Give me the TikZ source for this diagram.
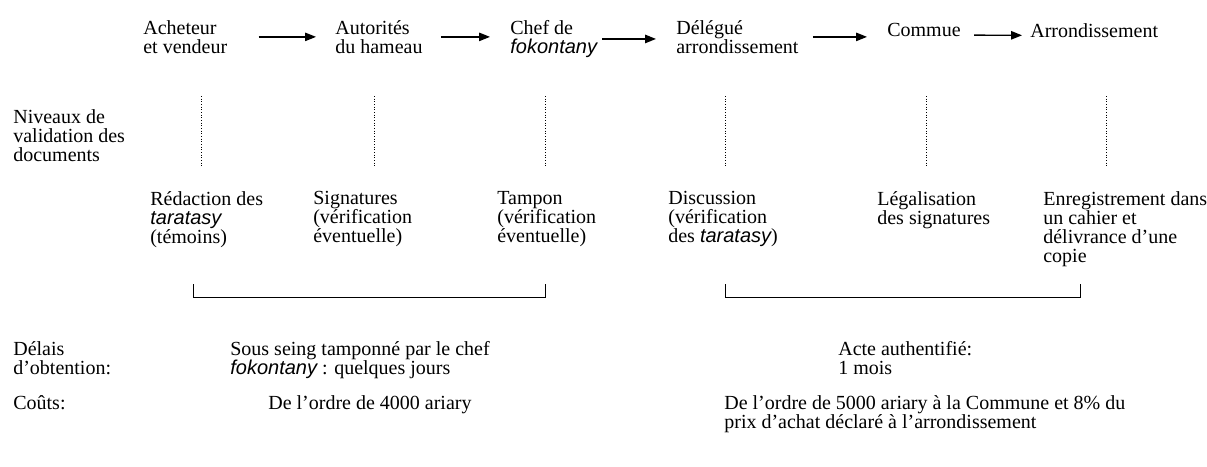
\documentclass[tikz,border=0pt]{standalone}
\usepackage{fontspec}
\setmainfont{Liberation Serif}
\newfontfamily\arialfont{Liberation Sans}
\usetikzlibrary{arrows.meta}
\newcommand{\mg}[1]{{\arialfont\itshape #1}}

\begin{document}
\begin{tikzpicture}[
  x=0.6pt, y=-0.6pt,
  txt/.style={anchor=north west, inner sep=0pt, align=left, font=\fontsize{12}{11.4}\selectfont},
  flow/.style={-{Triangle[length=6.5pt, width=5pt]}, line width=0.8pt},
  level/.style={densely dotted, line width=0.6pt},
  bracket/.style={line width=0.6pt},
]
  \useasboundingbox (0,0) rectangle (1207,466);
  % acteurs
  \node[txt] (acheteur) at (143,20) {Acheteur\\et vendeur};
  \node[txt] (autorites) at (335,20) {Autorités\\du hameau};
  \node[txt] (chef) at (510,20) {Chef de\\\mg{fokontany}};
  \node[txt] (delegue) at (676,20) {Délégué\\arrondissement};
  \node[txt] (commue) at (887,23) {Commue};
  \node[txt] (arrond) at (1030,23) {Arrondissement};
  \draw[flow, shorten <=18.6pt, shorten >=11.4pt] (acheteur.east) -- (acheteur.east -| autorites.west);
  \draw[flow, shorten <=10.8pt, shorten >=12pt] (autorites.east) -- (autorites.east -| chef.west);
  \draw[flow, shorten <=3pt, shorten >=12pt] (chef.east) -- (chef.east -| delegue.west);
  \draw[flow, shorten <=8.4pt, shorten >=12pt] (delegue.east) -- (delegue.east -| commue.west);
  \draw[flow, shorten <=7.8pt, shorten >=4.8pt] ([yshift=-3pt]commue.east) -- ([yshift=-3pt]arrond.west);
  % niveaux de validation
  \node[txt] (niveaux) at (13,109) {Niveaux de\\validation des\\documents};
  \foreach \x in {201,374,545,725,926,1106}
    \draw[level] (\x,96) -- (\x,166);
  \node[txt] (redaction) at (150,191) {Rédaction des\\\mg{taratasy}\\(témoins)};
  \node[txt] (signatures) at (313,191) {Signatures\\(vérification\\éventuelle)};
  \node[txt] (tampon) at (497,191) {Tampon\\(vérification\\éventuelle)};
  \node[txt] (discussion) at (668,191) {Discussion\\(vérification\\des \mg{taratasy})};
  \node[txt] (legal) at (877,191) {Légalisation\\des signatures};
  \node[txt] (enreg) at (1043,191) {Enregistrement dans\\un cahier et\\délivrance d’une\\copie};
  \draw[bracket] (193,284) |- (545,297) -- (545,284);
  \draw[bracket] (725,284) |- (1080,297) -- (1080,284);
  % delais et couts
  \node[txt] (delais) at (13,341) {Délais\\d’obtention:};
  \node[txt] (sousseing) at (230,341) {Sous seing tamponné par le chef\\\mg{fokontany} : quelques jours};
  \node[txt] (acte) at (838,341) {Acte authentifié:\\1 mois};
  \node[txt] (couts) at (13,395) {Coûts:};
  \node[txt] (coutsous) at (268,395) {De l’ordre de 4000 ariary};
  \node[txt] (coutacte) at (724,395) {De l’ordre de 5000 ariary à la Commune et 8\% du\\prix d’achat déclaré à l’arrondissement};
\end{tikzpicture}
\end{document}
